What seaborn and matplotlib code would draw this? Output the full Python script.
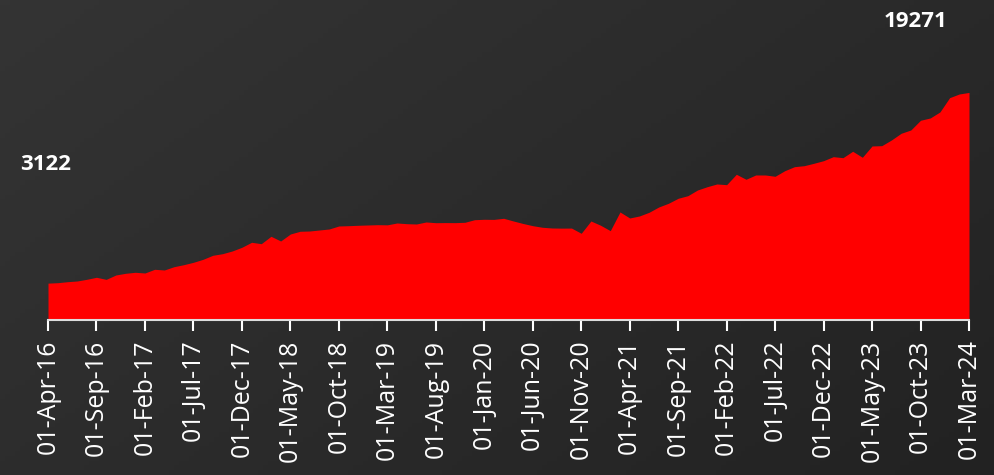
import numpy as np
import pandas as pd
import seaborn as sns
import matplotlib.pyplot as plt

# monthly values, Apr-16 .. Mar-24
values = [3122, 3159, 3244, 3303, 3447, 3617, 3440, 3812, 3955, 4040,
          3981, 4294, 4235, 4515, 4684, 4887, 5141, 5480, 5616, 5844,
          6158, 6581, 6463, 7089, 6691, 7284, 7513, 7538, 7623, 7708,
          7962, 7987, 8021, 8047, 8072, 8060, 8216, 8157, 8131, 8301,
          8241, 8250, 8245, 8275, 8495, 8529, 8520, 8614, 8385, 8174,
          7987, 7852, 7792, 7780, 7785, 7343, 8385, 8021, 7564, 9148,
          8639, 8809, 9122, 9571, 9885, 10308, 10528, 11011, 11290, 11519,
          11460, 12341, 11917, 12282, 12280, 12171, 12646, 12985, 13069, 13272,
          13493, 13832, 13747, 14289, 13781, 14738, 14763, 15246, 15813, 16093,
          16915, 17109, 17618, 18829, 19142, 19271]
months = pd.date_range('2016-04-01', periods=len(values), freq='MS')
tick_labels = ['01-Apr-16', '01-Sep-16', '01-Feb-17', '01-Jul-17', '01-Dec-17',
               '01-May-18', '01-Oct-18', '01-Mar-19', '01-Aug-19', '01-Jan-20',
               '01-Jun-20', '01-Nov-20', '01-Apr-21', '01-Sep-21', '01-Feb-22',
               '01-Jul-22', '01-Dec-22', '01-May-23', '01-Oct-23', '01-Mar-24']

df = pd.DataFrame({'idx': np.arange(len(values)), 'month': months, 'value': values})

sns.set_theme(style='dark')
plt.rcParams['font.family'] = ['Open Sans', 'DejaVu Sans']

fig = plt.figure(figsize=(9.94, 4.75), dpi=100)

# dark diagonal gradient background
bg = fig.add_axes([0, 0, 1, 1], zorder=-10)
gx, gy = np.meshgrid(np.linspace(0, 1, 200), np.linspace(0, 1, 100))
grad = 0.6 * gx + 0.4 * gy
bg.imshow(grad, cmap=sns.blend_palette(['#343434', '#222222'], as_cmap=True),
          aspect='auto', extent=[0, 1, 0, 1])
bg.axis('off')

ax = fig.add_axes([48 / 994, 1 - 320 / 475, 921 / 994, 320 / 475])
ax.patch.set_alpha(0)

sns.lineplot(data=df, x='idx', y='value', color='red', linewidth=0, ax=ax)
ax.fill_between(df['idx'], df['value'], color='#ff0000', linewidth=0)

ax.set_xlim(0, len(values) - 1)
ax.set_ylim(0, 27100)
ax.set_xlabel('')
ax.set_ylabel('')
ax.set_yticks([])
ax.set_xticks(np.arange(0, len(values), 5))
ax.set_xticklabels(tick_labels, rotation=90, color='white', fontsize=18)
ax.tick_params(axis='x', colors='white', length=8, width=1.5, direction='out',
               bottom=True, pad=6, labelcolor='white')
for side in ['top', 'right', 'left']:
    ax.spines[side].set_visible(False)
ax.spines['bottom'].set_color('#dddddd')
ax.spines['bottom'].set_linewidth(1.5)
ax.grid(False)

ax.text(-2.9, 13130, f'{values[0]}', color='white', fontsize=16,
        fontweight='bold', ha='left', va='center', clip_on=False)
ax.text(89.5, 25240, f'{values[-1]}', color='white', fontsize=16,
        fontweight='bold', ha='center', va='center', clip_on=False)

fig.savefig('out.png', dpi=100)
